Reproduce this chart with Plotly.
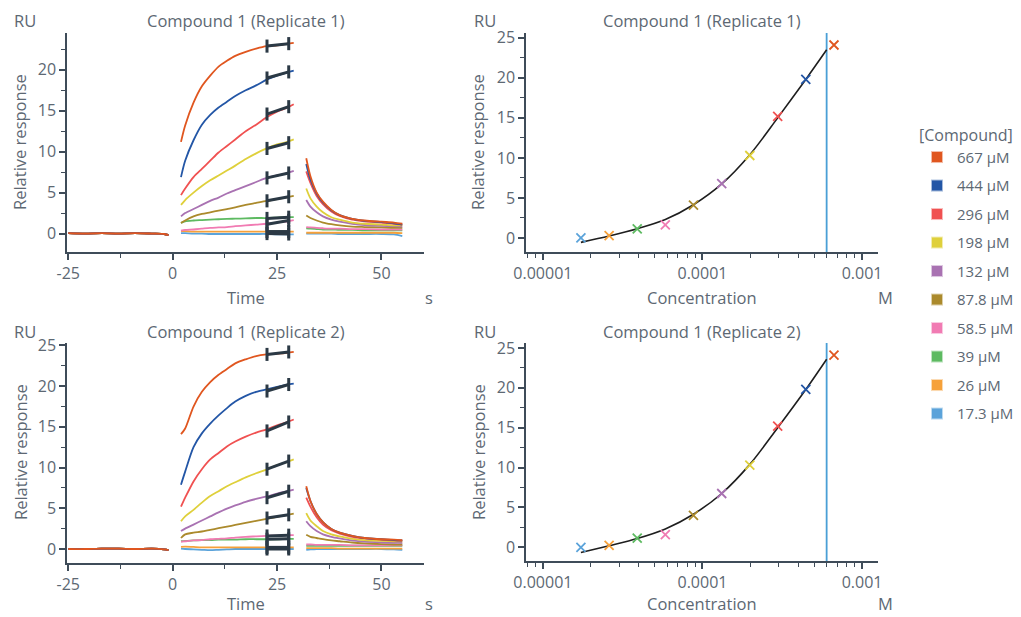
import plotly.graph_objects as go

W, H = 1021, 617

# ---------------- data ----------------
conc_labels = ["667 µM", "444 µM", "296 µM", "198 µM", "132 µM",
               "87.8 µM", "58.5 µM", "39 µM", "26 µM", "17.3 µM"]
conc_M = [667e-6, 444e-6, 296e-6, 198e-6, 132e-6, 87.8e-6, 58.5e-6, 39e-6, 26e-6, 17.3e-6]
colors = ["#e0561f", "#2356a6", "#f05151", "#dfd03b", "#a972b2",
          "#ab8a2c", "#f17bb3", "#5dba61", "#f6a13a", "#5ba3da"]

baseline_t = [-25, -21, -17, -13, -9, -5, -2, -1]
rep1_baseline = [0.05, 0.0, 0.05, 0.0, 0.05, 0.0, -0.05, -0.2]
rep2_baseline = [0.0, 0.0, 0.05, 0.05, 0.0, 0.05, -0.05, -0.15]

assoc_t = [2, 3, 5, 7, 9, 11, 13, 15, 17.5, 20, 22.5, 25, 27.5, 29]
rep1_association = [
    [11.2, 13.2, 16.0, 18.0, 19.3, 20.4, 21.1, 21.7, 22.2, 22.6, 22.9, 23.0, 23.2, 23.3],
    [6.9, 8.9, 11.4, 13.3, 14.5, 15.4, 16.1, 16.8, 17.5, 18.1, 18.8, 19.3, 19.7, 19.9],
    [4.7, 5.5, 6.9, 7.9, 8.9, 9.9, 10.7, 11.5, 12.5, 13.3, 14.2, 14.9, 15.4, 15.8],
    [3.5, 4.1, 5.0, 5.8, 6.5, 7.1, 7.7, 8.3, 9.1, 9.8, 10.4, 10.9, 11.2, 11.5],
    [2.1, 2.5, 3.0, 3.5, 4.0, 4.4, 4.9, 5.3, 5.8, 6.3, 6.8, 7.1, 7.4, 7.65],
    [1.3, 1.6, 2.1, 2.4, 2.6, 2.8, 3.0, 3.2, 3.5, 3.75, 4.0, 4.2, 4.45, 4.6],
    [0.35, 0.45, 0.5, 0.6, 0.7, 0.75, 0.8, 0.9, 1.0, 1.1, 1.2, 1.35, 1.5, 1.65],
    [1.3, 1.5, 1.6, 1.65, 1.7, 1.75, 1.8, 1.82, 1.85, 1.9, 1.9, 1.95, 2.0, 2.0],
    [0.3, 0.3, 0.25, 0.25, 0.25, 0.25, 0.25, 0.25, 0.25, 0.25, 0.25, 0.25, 0.25, 0.25],
    [0.05, 0.05, 0.0, 0.0, -0.05, -0.05, -0.05, -0.05, -0.05, -0.05, -0.05, -0.1, -0.1, -0.1],
]
rep2_association = [
    [14.1, 14.8, 17.5, 19.3, 20.5, 21.4, 22.1, 22.8, 23.3, 23.7, 23.9, 24.0, 24.1, 24.2],
    [7.9, 9.5, 12.5, 14.2, 15.4, 16.4, 17.3, 18.1, 18.8, 19.3, 19.6, 19.9, 20.2, 20.3],
    [5.2, 6.3, 8.3, 9.8, 11.0, 11.8, 12.6, 13.2, 13.8, 14.3, 14.7, 15.2, 15.6, 15.9],
    [3.4, 4.0, 4.8, 5.7, 6.5, 7.1, 7.7, 8.2, 8.8, 9.3, 9.75, 10.3, 10.7, 11.0],
    [2.2, 2.5, 3.0, 3.5, 4.0, 4.5, 4.95, 5.35, 5.8, 6.15, 6.45, 6.8, 7.1, 7.3],
    [1.35, 1.8, 2.0, 2.15, 2.35, 2.55, 2.75, 2.95, 3.2, 3.45, 3.7, 3.95, 4.2, 4.35],
    [0.9, 0.95, 1.05, 1.1, 1.2, 1.25, 1.3, 1.4, 1.5, 1.55, 1.6, 1.65, 1.7, 1.7],
    [0.95, 1.0, 1.05, 1.1, 1.1, 1.15, 1.15, 1.15, 1.2, 1.2, 1.2, 1.2, 1.25, 1.25],
    [0.25, 0.3, 0.25, 0.2, 0.2, 0.2, 0.2, 0.2, 0.2, 0.2, 0.2, 0.2, 0.2, 0.2],
    [0.05, 0.0, -0.05, -0.1, -0.15, -0.1, -0.05, 0.0, 0.0, 0.0, 0.0, 0.0, 0.0, 0.0],
]

dissoc_t = [32, 33, 34.5, 36, 38, 40, 43, 46, 50, 53, 55]
rep1_dissociation = [
    [9.2, 7.0, 5.0, 3.9, 2.9, 2.25, 1.8, 1.6, 1.45, 1.35, 1.2],
    [8.5, 6.6, 4.9, 3.8, 2.85, 2.25, 1.8, 1.55, 1.4, 1.25, 1.1],
    [7.6, 6.2, 4.6, 3.6, 2.7, 2.15, 1.7, 1.5, 1.35, 1.2, 1.1],
    [5.5, 4.3, 3.3, 2.6, 2.0, 1.7, 1.35, 1.2, 1.1, 1.0, 1.0],
    [4.1, 3.3, 2.6, 2.1, 1.7, 1.45, 1.2, 1.05, 0.95, 0.9, 0.85],
    [2.2, 1.9, 1.6, 1.35, 1.15, 1.0, 0.85, 0.8, 0.75, 0.7, 0.7],
    [0.8, 0.75, 0.7, 0.65, 0.6, 0.6, 0.55, 0.55, 0.5, 0.5, 0.5],
    [0.65, 0.6, 0.55, 0.5, 0.5, 0.45, 0.45, 0.4, 0.4, 0.4, 0.4],
    [0.1, 0.1, 0.1, 0.1, 0.1, 0.1, 0.1, 0.1, 0.1, 0.1, 0.05],
    [0.0, 0.0, 0.0, 0.0, 0.0, -0.05, -0.05, -0.05, -0.05, -0.1, -0.3],
]
rep2_dissociation = [
    [7.7, 5.9, 4.3, 3.3, 2.45, 2.0, 1.6, 1.35, 1.2, 1.15, 1.1],
    [7.5, 5.9, 4.3, 3.3, 2.45, 2.0, 1.6, 1.35, 1.2, 1.1, 1.05],
    [6.3, 5.2, 3.9, 3.0, 2.3, 1.9, 1.5, 1.3, 1.15, 1.05, 1.0],
    [4.4, 3.5, 2.8, 2.2, 1.8, 1.55, 1.25, 1.1, 1.0, 0.95, 0.95],
    [3.4, 2.8, 2.2, 1.8, 1.5, 1.3, 1.05, 0.9, 0.8, 0.75, 0.75],
    [1.75, 1.5, 1.35, 1.2, 1.05, 0.95, 0.8, 0.7, 0.6, 0.55, 0.55],
    [0.55, 0.55, 0.5, 0.5, 0.5, 0.5, 0.45, 0.45, 0.45, 0.45, 0.45],
    [0.4, 0.4, 0.4, 0.4, 0.4, 0.4, 0.4, 0.4, 0.4, 0.4, 0.4],
    [0.1, 0.1, 0.1, 0.1, 0.1, 0.05, 0.05, 0.05, 0.05, 0.05, 0.05],
    [-0.1, -0.05, 0.0, 0.0, 0.0, 0.0, 0.0, 0.0, 0.0, -0.05, -0.1],
]

window_t = [22.6, 27.8]
window_half_height = 0.8
rep1_window = [[22.9, 23.2], [19.0, 19.75], [14.6, 15.5], [10.4, 11.1], [6.8, 7.4],
               [4.0, 4.5], [1.15, 1.6], [1.85, 2.0], [0.25, 0.25], [0.0, -0.05]]
rep2_window = [[23.9, 24.2], [19.4, 20.2], [14.5, 15.6], [9.8, 10.8], [6.3, 7.1],
               [3.8, 4.2], [1.6, 1.7], [1.2, 1.25], [0.2, 0.2], [0.0, 0.0]]

rep1_response = [24.1, 19.8, 15.2, 10.3, 6.8, 4.1, 1.65, 1.15, 0.3, 0.02]
rep2_response = [24.1, 19.8, 15.2, 10.3, 6.75, 4.0, 1.6, 1.15, 0.25, 0.0]

fit_conc = [17.3e-6, 26e-6, 39e-6, 58.5e-6, 87.8e-6, 132e-6, 198e-6, 296e-6, 444e-6, 600e-6]
rep1_fit = [-0.55, 0.25, 1.15, 2.3, 4.15, 6.75, 10.4, 15.0, 19.8, 23.5]
rep2_fit = [-0.65, 0.2, 1.1, 2.3, 4.15, 6.75, 10.4, 15.0, 19.8, 23.6]
vline_conc = 6.0e-4

# ---------------- styling ----------------
FONT = "Open Sans"
TXT = "#5d6873"
AX = "#3f4c59"
DARK = "#2b3945"


def px(x):
    return x / W


def py(y):
    return 1 - y / H


fig = go.Figure()

panels = [
    ("x", "y", rep1_baseline, rep1_association, rep1_dissociation, rep1_window),
    ("x3", "y3", rep2_baseline, rep2_association, rep2_dissociation, rep2_window),
]
for xa, ya, base, assoc, dissoc, win in panels:
    for i in reversed(range(len(conc_labels))):
        xs = baseline_t + [None] + assoc_t + [None] + dissoc_t
        ys = base + [None] + assoc[i] + [None] + dissoc[i]
        fig.add_trace(go.Scatter(x=xs, y=ys, mode="lines", xaxis=xa, yaxis=ya,
                                 line=dict(color=colors[i], width=1.8, shape="spline", smoothing=0.8),
                                 showlegend=False, hoverinfo="skip"))
    for i in reversed(range(len(conc_labels))):
        fig.add_trace(go.Scatter(x=window_t, y=win[i], mode="lines", xaxis=xa, yaxis=ya,
                                 line=dict(color=DARK, width=3),
                                 error_y=dict(type="constant", value=window_half_height,
                                              thickness=3, width=0, color=DARK),
                                 showlegend=False, hoverinfo="skip"))

for xa, ya, resp, fit in [("x2", "y2", rep1_response, rep1_fit), ("x4", "y4", rep2_response, rep2_fit)]:
    fig.add_trace(go.Scatter(x=[vline_conc, vline_conc], y=[-5, 30], mode="lines", xaxis=xa, yaxis=ya,
                             line=dict(color="#4a9fd6", width=1.8), showlegend=False, hoverinfo="skip"))
    fig.add_trace(go.Scatter(x=fit_conc, y=fit, mode="lines", xaxis=xa, yaxis=ya,
                             line=dict(color="#1e1e1e", width=1.6, shape="spline", smoothing=0.9),
                             showlegend=False, hoverinfo="skip"))
    fig.add_trace(go.Scatter(x=conc_M, y=resp, mode="markers", xaxis=xa, yaxis=ya,
                             marker=dict(symbol="x-thin", size=9, color=colors,
                                         line=dict(width=1.8, color=colors)),
                             showlegend=False, hoverinfo="skip"))

# legend entries
for i, lab in enumerate(conc_labels):
    fig.add_trace(go.Scatter(x=[None], y=[None], mode="markers", name=lab, legendgroup=lab,
                             marker=dict(symbol="square", size=16, color=colors[i],
                                         line=dict(width=1, color="rgba(255,255,255,0.6)")),
                             xaxis="x", yaxis="y"))

tick_font = dict(family=FONT, size=16, color=TXT)


def lin_x(domain, anchor):
    return dict(domain=domain, anchor=anchor, range=[-25.3, 60.2], tickvals=[-25, 0, 25, 50],
                ticktext=["-25", "0", "25", "50"], automargin=False,
                showline=True, linecolor=AX, linewidth=1.5, ticks="outside", ticklen=6,
                tickwidth=1.5, tickcolor=AX, tickfont=tick_font, showgrid=False, zeroline=False,
                minor=dict(ticks="outside", ticklen=4, tickwidth=1.3, tickcolor=AX,
                           tick0=-25, dtick=12.5, showgrid=False))


def log_x(domain, anchor):
    minors = [k * 10 ** e for e in (-6, -5, -4, -3) for k in range(2, 10)]
    return dict(domain=domain, anchor=anchor, type="log", range=[-5.106, -2.9],
                tickvals=[1e-5, 1e-4, 1e-3], ticktext=["0.00001", "0.0001", "0.001"],
                automargin=False,
                showline=True, linecolor=AX, linewidth=1.5, ticks="outside", ticklen=6,
                tickwidth=1.5, tickcolor=AX, tickfont=tick_font, showgrid=False, zeroline=False,
                minor=dict(ticks="outside", ticklen=4, tickwidth=1.3, tickcolor=AX,
                           tickvals=minors, showgrid=False))


def lin_y(domain, anchor, rng):
    return dict(domain=domain, anchor=anchor, range=rng, tick0=0, dtick=5, automargin=False,
                showline=True, linecolor=AX, linewidth=1.5, ticks="outside", ticklen=6,
                tickwidth=1.5, tickcolor=AX, tickfont=tick_font, showgrid=False, zeroline=False,
                minor=dict(ticks="outside", ticklen=4, tickwidth=1.3, tickcolor=AX,
                           tick0=0, dtick=2.5, showgrid=False))


xl = [px(67), px(424)]
xr = [px(526), px(878)]
yt = [py(252), py(33)]
yb = [py(563), py(343)]
ybr = [py(561), py(343)]

fig.update_layout(
    width=W, height=H, margin=dict(l=0, r=0, t=0, b=0, autoexpand=False),
    paper_bgcolor="white", plot_bgcolor="white",
    font=dict(family=FONT, color=TXT, size=15),
    xaxis=lin_x(xl, "y"), yaxis=lin_y(yt, "x", [-2.25, 24.5]),
    xaxis2=log_x(xr, "y2"), yaxis2=lin_y(yt, "x2", [-1.75, 25.6]),
    xaxis3=lin_x(xl, "y3"), yaxis3=lin_y(yb, "x3", [-1.72, 25.3]),
    xaxis4=log_x(xr, "y4"), yaxis4=lin_y(ybr, "x4", [-1.72, 25.63]),
    showlegend=True,
    legend=dict(x=px(917), y=py(120), xanchor="left", yanchor="top",
                title=dict(text="[Compound]", font=dict(family=FONT, size=16, color=TXT)),
                font=dict(family=FONT, size=15, color=TXT), tracegroupgap=6,
                itemsizing="constant", itemwidth=30, bgcolor="rgba(0,0,0,0)"),
)

ann = []


def text(x, y, s, size=16.5, angle=0, xanchor="center"):
    ann.append(dict(x=px(x), y=py(y), xref="paper", yref="paper", text=s, showarrow=False,
                    xanchor=xanchor, yanchor="middle", textangle=angle,
                    font=dict(family=FONT, size=size, color=TXT)))


for yoff, rep, by in [(0, "Replicate 1", 297), (310, "Replicate 2", 603)]:
    text(245.5, 21 + yoff, f"Compound 1 ({rep})")
    text(702, 21 + yoff, f"Compound 1 ({rep})")
    text(25, 21 + yoff, "RU")
    text(485, 21 + yoff, "RU")
    text(245.5, by, "Time")
    text(702, by, "Concentration")
    text(429, by, "s")
    text(885, by, "M")
    text(20, 142 + yoff, "Relative response", angle=-90)
    text(478, 142 + yoff, "Relative response", angle=-90)

fig.update_layout(annotations=ann)
fig.write_html("out.html")
